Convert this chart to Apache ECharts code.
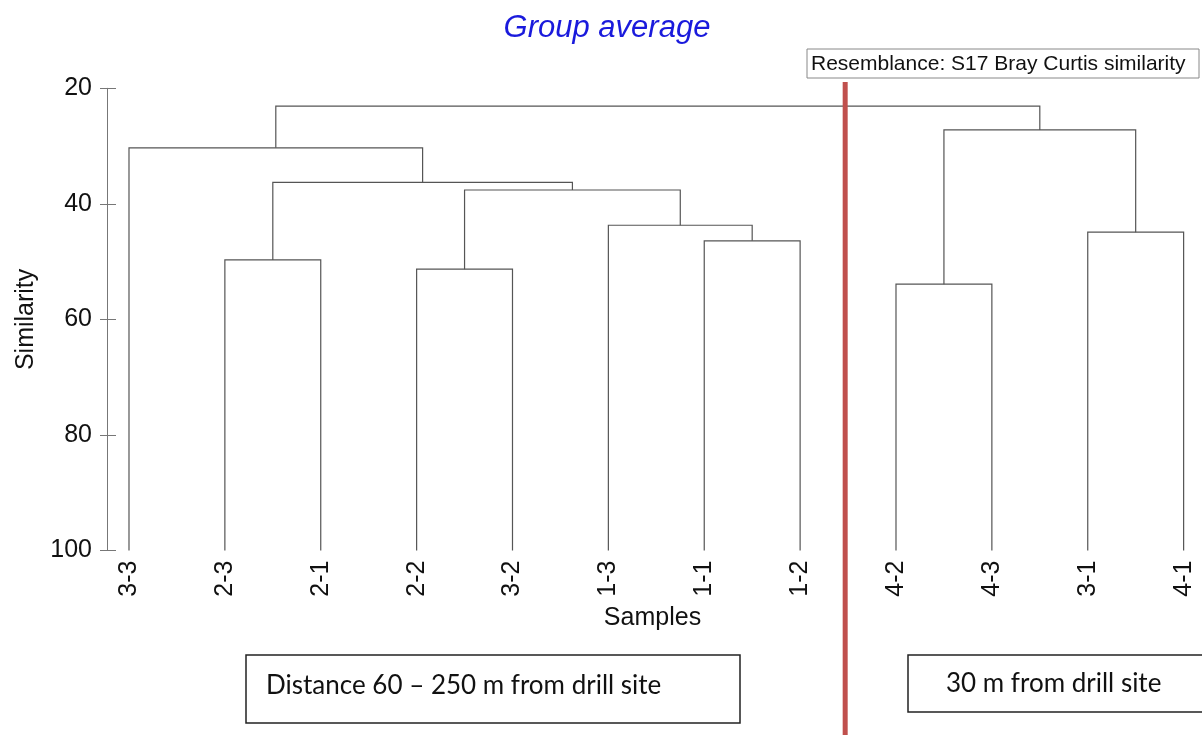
<!DOCTYPE html>
<html>
<head>
<meta charset="utf-8">
<title>Group average</title>
<script src="https://cdn.jsdelivr.net/npm/echarts@6/dist/echarts.min.js"></script>
<style>
  html, body { margin: 0; padding: 0; background: #fff; }
  #chart { width: 1202px; height: 735px; }
</style>
</head>
<body>
<div id="chart"></div>
<script>
// Sample names in dendrogram leaf order (left to right)
const samples = ['3-3', '2-3', '2-1', '2-2', '3-2', '1-3', '1-1', '1-2', '4-2', '4-3', '3-1', '4-1'];

// Agglomeration steps: node ids 0..11 are samples, each merge creates node 12, 13, ...
const mergeLeft  = [1, 3, 6, 5, 13, 12, 0, 8, 10, 19, 18];
const mergeRight = [2, 4, 7, 14, 15, 16, 17, 9, 11, 20, 21];
const mergeSimilarity = [49.7, 51.3, 46.4, 43.7, 37.6, 36.3, 30.3, 53.9, 44.9, 27.2, 23.1];

// Y axis ticks (similarity %)
const simTicks = [20, 40, 60, 80, 100];

// Position of the divider between the two distance groups (in leaf units)
const groupDivider = 7.47;

// Leaf baseline similarity
const leafLevel = 100;

// Build node positions: leaves at their index, merged nodes at the midpoint of children
const nodeX = samples.map((_, i) => i);
const nodeH = samples.map(() => leafLevel);
const links = [];
for (let k = 0; k < mergeLeft.length; k++) {
  const a = mergeLeft[k], b = mergeRight[k], h = mergeSimilarity[k];
  links.push([nodeX[a], nodeH[a], nodeX[b], nodeH[b], h]);
  nodeX.push((nodeX[a] + nodeX[b]) / 2);
  nodeH.push(h);
}

const chart = echarts.init(document.getElementById('chart'), null, { renderer: 'canvas' });
const labelFont = '"Liberation Sans", Arial, sans-serif';
const boxFont = 'Lato, "Open Sans", sans-serif';

const option = {
  backgroundColor: '#ffffff',
  animation: false,
  grid: { left: 107, right: 4, top: 88.3, bottom: 184.5, containLabel: false },
  xAxis: {
    type: 'value',
    min: -0.2294,
    max: 11.15,
    name: 'Samples',
    nameLocation: 'middle',
    nameGap: 55,
    nameTextStyle: { fontFamily: labelFont, fontSize: 25, color: '#111' },
    axisLine: { show: false },
    axisTick: { show: false },
    splitLine: { show: false },
    axisLabel: {
      customValues: samples.map((_, i) => i),
      formatter: v => samples[Math.round(v)],
      rotate: 90,
      margin: 10,
      fontFamily: labelFont,
      fontSize: 25,
      color: '#111'
    }
  },
  yAxis: [{
    type: 'value',
    position: 'left',
    offset: 0,
    min: 20,
    max: 100,
    interval: 20,
    inverse: true,
    name: 'Similarity',
    nameLocation: 'middle',
    nameGap: 68,
    nameTextStyle: { fontFamily: labelFont, fontSize: 25, color: '#111' },
    axisLine: { show: true, onZero: false, lineStyle: { color: '#777', width: 1 } },
    axisTick: { show: true, length: 7, lineStyle: { color: '#777' } },
    splitLine: { show: false },
    axisLabel: {
      margin: 15,
      fontFamily: labelFont,
      fontSize: 25,
      color: '#111',
      customValues: simTicks
    }
  }, {
    type: 'value',
    position: 'left',
    offset: 0,
    min: 20,
    max: 100,
    interval: 20,
    inverse: true,
    axisLine: { show: false, onZero: false },
    axisTick: { show: true, inside: true, length: 9, lineStyle: { color: '#777' } },
    axisLabel: { show: false },
    splitLine: { show: false }
  }],
  series: [{
    type: 'custom',
    name: 'dendrogram',
    coordinateSystem: 'cartesian2d',
    data: links,
    encode: { x: [0, 2], y: [1, 3, 4] },
    renderItem: (params, api) => {
      const p1 = api.coord([api.value(0), api.value(1)]);
      const p2 = api.coord([api.value(0), api.value(4)]);
      const p3 = api.coord([api.value(2), api.value(4)]);
      const p4 = api.coord([api.value(2), api.value(3)]);
      return {
        type: 'polyline',
        shape: { points: [p1, p2, p3, p4] },
        style: { stroke: '#555', lineWidth: 1.2, fill: null }
      };
    },
    silent: true
  }, {
    type: 'custom',
    name: 'divider',
    coordinateSystem: 'cartesian2d',
    data: [[groupDivider, 20]],
    clip: false,
    renderItem: (params, api) => {
      const p = api.coord([api.value(0), api.value(1)]);
      return {
        type: 'line',
        shape: { x1: p[0], y1: 82, x2: p[0], y2: 735 },
        style: { stroke: '#c0504d', lineWidth: 5 }
      };
    },
    silent: true
  }],
  graphic: [
    {
      type: 'text',
      x: 607,
      y: 28,
      style: {
        text: 'Group average',
        fontFamily: labelFont,
        fontStyle: 'italic',
        fontSize: 31,
        fill: '#1a1adc',
        align: 'center',
        verticalAlign: 'middle'
      }
    },
    {
      type: 'group',
      x: 807,
      y: 49,
      children: [
        { type: 'rect', shape: { x: 0, y: 0, width: 392, height: 29 },
          style: { fill: '#fff', stroke: '#888', lineWidth: 1 } },
        { type: 'text', x: 4, y: 15,
          style: { text: 'Resemblance: S17 Bray Curtis similarity', fontFamily: labelFont,
                   fontSize: 21, fill: '#111', verticalAlign: 'middle' } }
      ]
    },
    {
      type: 'group',
      x: 246,
      y: 655,
      children: [
        { type: 'rect', shape: { x: 0, y: 0, width: 494, height: 68 },
          style: { fill: '#fff', stroke: '#222', lineWidth: 1.5 } },
        { type: 'text', x: 20, y: 31,
          style: { text: 'Distance 60 \u2013 250 m from drill site', fontFamily: boxFont,
                   fontSize: 26, fill: '#111', verticalAlign: 'middle' } }
      ]
    },
    {
      type: 'group',
      x: 908,
      y: 655,
      children: [
        { type: 'rect', shape: { x: 0, y: 0, width: 320, height: 57 },
          style: { fill: '#fff', stroke: '#222', lineWidth: 1.5 } },
        { type: 'text', x: 38, y: 29,
          style: { text: '30 m from drill site', fontFamily: boxFont,
                   fontSize: 26, fill: '#111', verticalAlign: 'middle' } }
      ]
    }
  ]
};

chart.setOption(option);
</script>
</body>
</html>
